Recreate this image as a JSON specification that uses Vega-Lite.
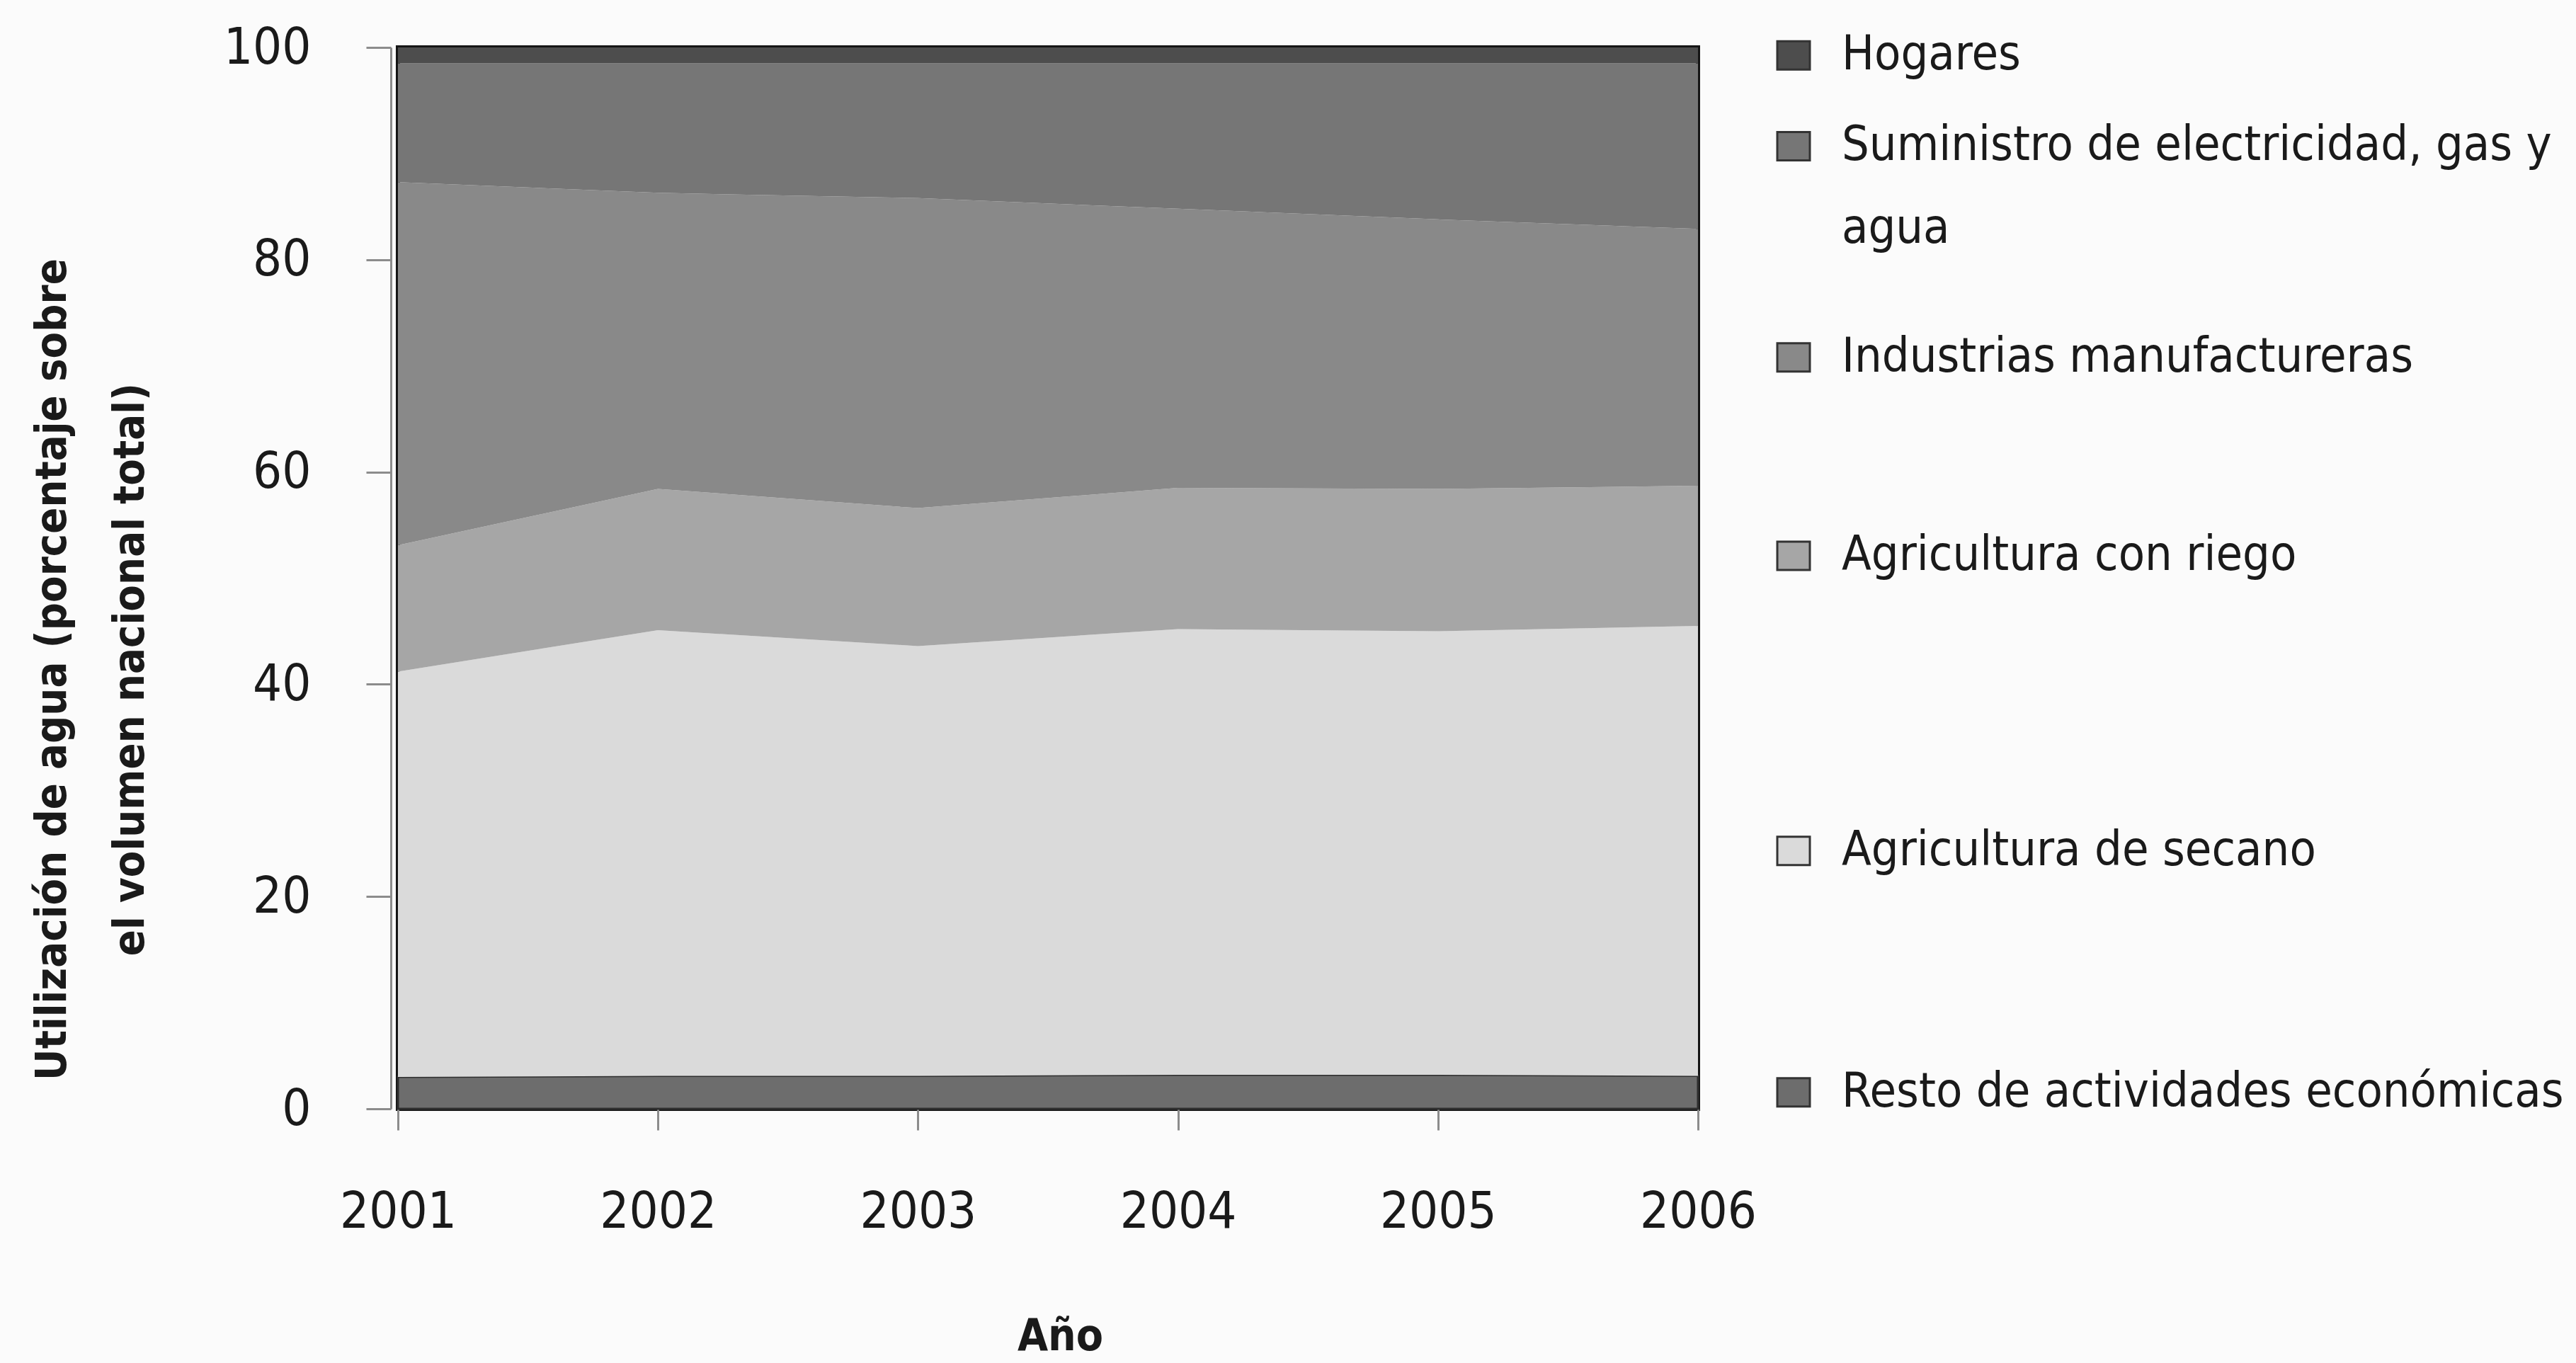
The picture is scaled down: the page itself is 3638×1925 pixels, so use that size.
{
  "$schema": "https://vega.github.io/schema/vega-lite/v6.json",
  "width": 1836,
  "height": 1499,
  "autosize": {"type": "none"},
  "padding": {"left": 562, "top": 67, "right": 1240, "bottom": 359},
  "background": "#fbfbfb",
  "config": {
    "view": {"stroke": "#151515", "strokeWidth": 6},
    "font": "DejaVu Sans Condensed, Liberation Sans, sans-serif"
  },
  "data": {
    "values": [
      {"anio": 2001, "sector": "Resto de actividades económicas", "orden": 1, "pct": 3.0},
      {"anio": 2001, "sector": "Agricultura de secano", "orden": 2, "pct": 38.2},
      {"anio": 2001, "sector": "Agricultura con riego", "orden": 3, "pct": 11.9},
      {"anio": 2001, "sector": "Industrias manufactureras", "orden": 4, "pct": 34.2},
      {"anio": 2001, "sector": "Suministro de electricidad, gas y\nagua", "orden": 5, "pct": 11.2},
      {"anio": 2001, "sector": "Hogares", "orden": 6, "pct": 1.5},
      {"anio": 2002, "sector": "Resto de actividades económicas", "orden": 1, "pct": 3.1},
      {"anio": 2002, "sector": "Agricultura de secano", "orden": 2, "pct": 42.0},
      {"anio": 2002, "sector": "Agricultura con riego", "orden": 3, "pct": 13.3},
      {"anio": 2002, "sector": "Industrias manufactureras", "orden": 4, "pct": 27.9},
      {"anio": 2002, "sector": "Suministro de electricidad, gas y\nagua", "orden": 5, "pct": 12.2},
      {"anio": 2002, "sector": "Hogares", "orden": 6, "pct": 1.5},
      {"anio": 2003, "sector": "Resto de actividades económicas", "orden": 1, "pct": 3.1},
      {"anio": 2003, "sector": "Agricultura de secano", "orden": 2, "pct": 40.5},
      {"anio": 2003, "sector": "Agricultura con riego", "orden": 3, "pct": 13.0},
      {"anio": 2003, "sector": "Industrias manufactureras", "orden": 4, "pct": 29.2},
      {"anio": 2003, "sector": "Suministro de electricidad, gas y\nagua", "orden": 5, "pct": 12.7},
      {"anio": 2003, "sector": "Hogares", "orden": 6, "pct": 1.5},
      {"anio": 2004, "sector": "Resto de actividades económicas", "orden": 1, "pct": 3.2},
      {"anio": 2004, "sector": "Agricultura de secano", "orden": 2, "pct": 42.0},
      {"anio": 2004, "sector": "Agricultura con riego", "orden": 3, "pct": 13.3},
      {"anio": 2004, "sector": "Industrias manufactureras", "orden": 4, "pct": 26.3},
      {"anio": 2004, "sector": "Suministro de electricidad, gas y\nagua", "orden": 5, "pct": 13.7},
      {"anio": 2004, "sector": "Hogares", "orden": 6, "pct": 1.5},
      {"anio": 2005, "sector": "Resto de actividades económicas", "orden": 1, "pct": 3.2},
      {"anio": 2005, "sector": "Agricultura de secano", "orden": 2, "pct": 41.8},
      {"anio": 2005, "sector": "Agricultura con riego", "orden": 3, "pct": 13.4},
      {"anio": 2005, "sector": "Industrias manufactureras", "orden": 4, "pct": 25.4},
      {"anio": 2005, "sector": "Suministro de electricidad, gas y\nagua", "orden": 5, "pct": 14.7},
      {"anio": 2005, "sector": "Hogares", "orden": 6, "pct": 1.5},
      {"anio": 2006, "sector": "Resto de actividades económicas", "orden": 1, "pct": 3.1},
      {"anio": 2006, "sector": "Agricultura de secano", "orden": 2, "pct": 42.4},
      {"anio": 2006, "sector": "Agricultura con riego", "orden": 3, "pct": 13.2},
      {"anio": 2006, "sector": "Industrias manufactureras", "orden": 4, "pct": 24.2},
      {"anio": 2006, "sector": "Suministro de electricidad, gas y\nagua", "orden": 5, "pct": 15.6},
      {"anio": 2006, "sector": "Hogares", "orden": 6, "pct": 1.5}
    ]
  },
  "transform": [
    {"stack": "pct", "groupby": ["anio"], "sort": [{"field": "orden", "order": "ascending"}], "as": ["v0", "v1"]}
  ],
  "layer": [
    {
      "mark": {"type": "area", "interpolate": "linear", "strokeWidth": 3},
      "encoding": {
        "x": {
          "field": "anio", "type": "quantitative",
          "scale": {"domain": [2001, 2006], "nice": false, "zero": false},
          "axis": {
            "values": [2001, 2002, 2003, 2004, 2005, 2006],
            "format": "d", "grid": false, "domain": false,
            "tickColor": "#8c8c8c", "tickWidth": 3, "tickSize": 30,
            "labelFont": "DejaVu Sans Condensed, Liberation Sans, sans-serif", "labelFontSize": 72, "labelColor": "#1a1a1a",
            "labelPadding": 80, "labelFlush": false, "labelOverlap": false,
            "title": "Año", "titleFont": "DejaVu Sans Condensed, Liberation Sans, sans-serif", "titleFontWeight": "bold",
            "titleFontSize": 62, "titleColor": "#1a1a1a",
            "titleX": 935, "titleY": 340, "titleAlign": "center", "titleBaseline": "alphabetic"
          }
        },
        "y": {
          "field": "v1", "type": "quantitative",
          "scale": {"domain": [0, 100], "nice": false},
          "axis": {
            "values": [0, 20, 40, 60, 80, 100], "grid": false, "offset": 10,
            "domainColor": "#8c8c8c", "domainWidth": 3,
            "tickColor": "#8c8c8c", "tickWidth": 3, "tickSize": 35,
            "labelFont": "DejaVu Sans Condensed, Liberation Sans, sans-serif", "labelFontSize": 72, "labelColor": "#1a1a1a",
            "labelPadding": 78,
            "title": ["Utilización de agua (porcentaje sobre", "el volumen nacional total)"],
            "titleFont": "DejaVu Sans Condensed, Liberation Sans, sans-serif", "titleFontWeight": "bold", "titleFontSize": 61,
            "titleLineHeight": 110, "titleColor": "#1a1a1a", "titleAngle": -90,
            "titleX": -508, "titleY": 878, "titleAlign": "center", "titleBaseline": "top"
          }
        },
        "y2": {"field": "v0"},
        "color": {
          "field": "sector", "type": "nominal",
          "scale": {
            "domain": ["Hogares", "Suministro de electricidad, gas y\nagua", "Industrias manufactureras", "Agricultura con riego", "Agricultura de secano", "Resto de actividades económicas"],
            "range": ["#4d4d4d", "#767676", "#898989", "#a6a6a6", "#dadada", "#6d6d6d"]
          },
          "legend": null
        },
        "stroke": {
          "condition": {"test": "datum.orden === 1", "value": "#2e2e2e"},
          "value": "transparent"
        }
      }
    },
    {
      "transform": [
        {"filter": "datum.anio === 2006"},
        {"calculate": "(datum.v0 + datum.v1) / 2", "as": "medio"}
      ],
      "mark": {"type": "text", "align": "left", "baseline": "middle", "dx": 203, "fontSize": 68, "lineBreak": "\n", "lineHeight": 117, "color": "#1a1a1a", "font": "DejaVu Sans Condensed, Liberation Sans, sans-serif"},
      "encoding": {
        "x": {"field": "anio", "type": "quantitative"},
        "y": {"field": "medio", "type": "quantitative"},
        "text": {"field": "sector"}
      }
    },
    {
      "transform": [
        {"filter": "datum.anio === 2006"},
        {"calculate": "(datum.v0 + datum.v1) / 2", "as": "medio"}
      ],
      "mark": {"type": "point", "shape": "M 4.87 -0.87 L 6.87 -0.87 L 6.87 0.87 L 4.87 0.87 Z", "size": 2116, "filled": true, "opacity": 1, "stroke": "#333333", "strokeWidth": 3},
      "encoding": {
        "x": {"field": "anio", "type": "quantitative"},
        "y": {"field": "medio", "type": "quantitative"},
        "color": {"field": "sector", "type": "nominal", "legend": null}
      }
    }
  ]
}
